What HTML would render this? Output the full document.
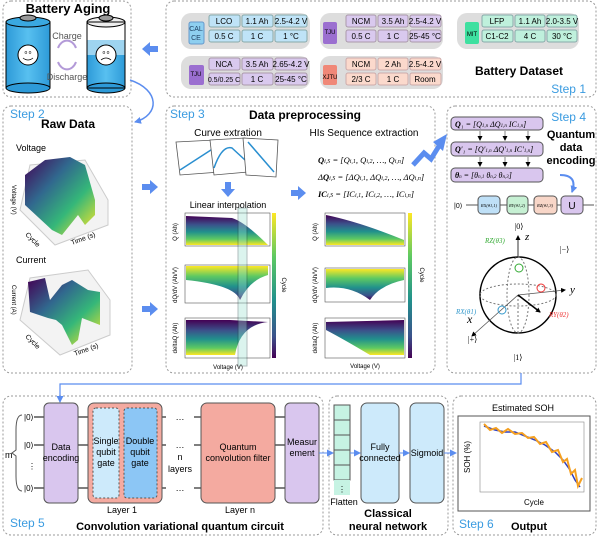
<!DOCTYPE html>
<html><head><meta charset="utf-8"><style>
html,body{margin:0;padding:0;background:#fff}
svg{display:block;font-family:"Liberation Sans",sans-serif}
.b{font-weight:bold}
.st{fill:#3a9be0;font-size:12px}
</style></head><body>
<svg width="600" height="538" viewBox="0 0 600 538" xmlns="http://www.w3.org/2000/svg">
<defs>
<linearGradient id="vir" x1="0" y1="0" x2="0" y2="1"><stop offset="0" stop-color="#440154"/><stop offset=".3" stop-color="#3b528b"/><stop offset=".55" stop-color="#21918c"/><stop offset=".8" stop-color="#5ec962"/><stop offset="1" stop-color="#fde725"/></linearGradient>
<linearGradient id="virr" x1="0" y1="0" x2="0" y2="1"><stop offset="0" stop-color="#fde725"/><stop offset=".3" stop-color="#5ec962"/><stop offset=".6" stop-color="#21918c"/><stop offset=".85" stop-color="#3b528b"/><stop offset="1" stop-color="#440154"/></linearGradient>
<linearGradient id="virh" x1="0" y1="0" x2="1" y2="1"><stop offset="0" stop-color="#440154"/><stop offset=".35" stop-color="#31688e"/><stop offset=".65" stop-color="#35b779"/><stop offset="1" stop-color="#fde725"/></linearGradient>
<linearGradient id="bat" x1="0" y1="0" x2="1" y2="0"><stop offset="0" stop-color="#2d9ad8"/><stop offset=".5" stop-color="#58c0f0"/><stop offset="1" stop-color="#2d9ad8"/></linearGradient>
<marker id="ah" markerUnits="userSpaceOnUse" markerWidth="7" markerHeight="7" refX="6" refY="3.5" orient="auto"><path d="M0,0 L7,3.5 L0,7z" fill="#5b8def"/></marker>
<marker id="ak" markerUnits="userSpaceOnUse" markerWidth="5" markerHeight="5" refX="4" refY="2.5" orient="auto"><path d="M0,0 L5,2.5 L0,5z" fill="#000"/></marker>
</defs>
<g fill="none" stroke="#999" stroke-dasharray="2,2" stroke-width="1">
<rect x="3" y="1" width="128" height="96" rx="8"/>
<rect x="166" y="1" width="430" height="96" rx="8"/>
<rect x="3" y="106" width="129" height="267" rx="8"/>
<rect x="166" y="106" width="269" height="267" rx="8"/>
<rect x="447" y="106" width="149" height="267" rx="8"/>
<rect x="3" y="396" width="320" height="139" rx="8"/>
<rect x="329" y="396" width="119" height="139" rx="8"/>
<rect x="453" y="396" width="143" height="139" rx="8"/>
</g>
<!-- Battery aging -->
<text x="68" y="13" text-anchor="middle" class="b" font-size="13">Battery Aging</text>
<rect x="6" y="22" width="44" height="66" fill="url(#bat)" stroke="#000"/>
<ellipse cx="28" cy="88" rx="22" ry="5" fill="#2d9ad8" stroke="#000"/>
<ellipse cx="28" cy="22" rx="22" ry="5" fill="#3aa8e0" stroke="#000"/>
<ellipse cx="28" cy="18" rx="8" ry="3" fill="#999" stroke="#000"/>
<circle cx="28" cy="55" r="10" fill="#fff" stroke="#000"/><text x="28" y="54" text-anchor="middle" font-size="5">o o</text><path d="M23,58 q5,4 10,0" stroke="#000" fill="none" stroke-width=".8"/>
<rect x="87" y="22" width="38" height="66" fill="#fff" stroke="#000"/>
<rect x="87" y="55" width="38" height="33" fill="url(#bat)"/>
<rect x="87" y="40" width="38" height="15" fill="#9ed4f0"/>
<ellipse cx="106" cy="88" rx="19" ry="5" fill="#2d9ad8" stroke="#000"/>
<ellipse cx="106" cy="22" rx="19" ry="5" fill="#eee" stroke="#000"/>
<ellipse cx="106" cy="18" rx="7" ry="3" fill="#999" stroke="#000"/>
<rect x="87" y="22" width="38" height="66" fill="none" stroke="#000"/>
<circle cx="106" cy="55" r="10" fill="#fff" stroke="#000"/><text x="106" y="54" text-anchor="middle" font-size="5">o o</text><path d="M101,60 q5,-4 10,0" stroke="#000" fill="none" stroke-width=".8"/>
<text x="67" y="39" text-anchor="middle" font-size="9" fill="#555">Charge</text>
<text x="67" y="80" text-anchor="middle" font-size="9" fill="#555">Discharge</text>
<path d="M58,48 a10,13 0 0 1 18,0" stroke="#b39ad8" fill="none" stroke-width="2"/>
<path d="M76,62 a10,13 0 0 1 -18,0" stroke="#b39ad8" fill="none" stroke-width="2"/>
<polygon points="142,49 150,42 150,46 158,46 158,52 150,52 150,56" fill="#5b8def"/>
<path d="M130,80 C160,90 160,115 135,122" stroke="#5b8def" stroke-width="1.5" fill="none" marker-end="url(#ah)"/>
<!-- Dataset cards -->
<g font-size="8" text-anchor="middle">
<g>
<rect x="181" y="13" width="129" height="36" rx="10" fill="#ddd"/>
<rect x="189" y="22" width="15" height="22" rx="2" fill="#8ecff0" stroke="#69c"/><text x="196" y="31" font-size="7" fill="#246">CAL</text><text x="196" y="40" font-size="7" fill="#246">CE</text>
<g fill="#bfe3f7" stroke="#8aa"><rect x="209" y="15" width="31" height="12" rx="2"/><rect x="242" y="15" width="31" height="12" rx="2"/><rect x="275" y="15" width="32" height="12" rx="2"/><rect x="209" y="30" width="31" height="12" rx="2"/><rect x="242" y="30" width="31" height="12" rx="2"/><rect x="275" y="30" width="32" height="12" rx="2"/></g>
<text x="224" y="24">LCO</text><text x="257" y="24">1.1 Ah</text><text x="291" y="24">2.5-4.2 V</text><text x="224" y="39">0.5 C</text><text x="257" y="39">1 C</text><text x="291" y="39">1 °C</text>
</g>
<g>
<rect x="320" y="13" width="123" height="36" rx="10" fill="#ddd"/>
<rect x="323" y="22" width="14" height="22" rx="2" fill="#9b6fd0"/><text x="330" y="34" font-size="6">TJU</text>
<g fill="#d9c9ee" stroke="#a9a"><rect x="346" y="15" width="30" height="12" rx="2"/><rect x="378" y="15" width="30" height="12" rx="2"/><rect x="410" y="15" width="31" height="12" rx="2"/><rect x="346" y="30" width="30" height="12" rx="2"/><rect x="378" y="30" width="30" height="12" rx="2"/><rect x="410" y="30" width="31" height="12" rx="2"/></g>
<text x="361" y="24">NCM</text><text x="393" y="24">3.5 Ah</text><text x="425" y="24">2.5-4.2 V</text><text x="361" y="39">0.5 C</text><text x="393" y="39">1 C</text><text x="425" y="39">25-45 °C</text>
</g>
<g>
<rect x="457" y="13" width="122" height="36" rx="10" fill="#ddd"/>
<rect x="465" y="22" width="14" height="22" rx="2" fill="#3ee0a0"/><text x="472" y="36" font-size="6">MIT</text>
<g fill="#bff0dc" stroke="#8aa"><rect x="482" y="15" width="31" height="12" rx="2"/><rect x="515" y="15" width="30" height="12" rx="2"/><rect x="547" y="15" width="30" height="12" rx="2"/><rect x="482" y="30" width="31" height="12" rx="2"/><rect x="515" y="30" width="30" height="12" rx="2"/><rect x="547" y="30" width="30" height="12" rx="2"/></g>
<text x="497" y="24">LFP</text><text x="530" y="24">1.1 Ah</text><text x="562" y="24">2.0-3.5 V</text><text x="497" y="39">C1-C2</text><text x="530" y="39">4 C</text><text x="562" y="39">30 °C</text>
</g>
<g>
<rect x="181" y="56" width="129" height="33" rx="10" fill="#ddd"/>
<rect x="189" y="65" width="15" height="20" rx="2" fill="#9b6fd0"/><text x="196" y="76" font-size="6">TJU</text>
<g fill="#d9c9ee" stroke="#a9a"><rect x="209" y="58" width="31" height="12" rx="2"/><rect x="242" y="58" width="31" height="12" rx="2"/><rect x="275" y="58" width="32" height="12" rx="2"/><rect x="209" y="73" width="31" height="12" rx="2"/><rect x="242" y="73" width="31" height="12" rx="2"/><rect x="275" y="73" width="32" height="12" rx="2"/></g>
<text x="224" y="67">NCA</text><text x="257" y="67">3.5 Ah</text><text x="291" y="67">2.65-4.2 V</text><text x="224" y="82" font-size="7">0.5/0.25 C</text><text x="257" y="82">1 C</text><text x="291" y="82">25-45 °C</text>
</g>
<g>
<rect x="320" y="56" width="123" height="33" rx="10" fill="#ddd"/>
<rect x="323" y="65" width="14" height="20" rx="2" fill="#f08878"/><text x="330" y="79" font-size="6">XJTU</text>
<g fill="#fbd9cc" stroke="#caa"><rect x="346" y="58" width="30" height="12" rx="2"/><rect x="378" y="58" width="30" height="12" rx="2"/><rect x="410" y="58" width="31" height="12" rx="2"/><rect x="346" y="73" width="30" height="12" rx="2"/><rect x="378" y="73" width="30" height="12" rx="2"/><rect x="410" y="73" width="31" height="12" rx="2"/></g>
<text x="361" y="67">NCM</text><text x="393" y="67">2 Ah</text><text x="425" y="67">2.5-4.2 V</text><text x="361" y="82">2/3 C</text><text x="393" y="82">1 C</text><text x="425" y="82">Room</text>
</g>
</g>
<text x="519" y="75" text-anchor="middle" class="b" font-size="12">Battery Dataset</text>
<text x="586" y="93" text-anchor="end" class="st">Step 1</text>
<!-- Step 2 -->
<text x="10" y="118" class="st">Step 2</text>
<text x="68" y="128" text-anchor="middle" class="b" font-size="12">Raw Data</text>
<text x="16" y="151" font-size="9">Voltage</text>
<path d="M20,210 L55,245 L108,225 L108,200 L85,160 L30,165z" fill="#f3f3f3" stroke="#ccc"/>
<path d="M25,175 L45,160 L70,157 L85,165 L95,200 L95,215 L85,225 L78,215 L62,235 L52,230 L25,205z" fill="url(#virh)"/>
<text x="12" y="185" font-size="6" transform="rotate(90 12 185)">Voltage (V)</text>
<text x="25" y="235" font-size="7" transform="rotate(45 25 235)">Cycle</text>
<text x="72" y="245" font-size="7" transform="rotate(-20 72 245)">Time (s)</text>
<text x="16" y="263" font-size="9">Current</text>
<path d="M20,320 L60,355 L110,335 L110,300 L88,270 L30,278z" fill="#f3f3f3" stroke="#ccc"/>
<path d="M28,282 L45,278 L50,300 L62,285 L72,280 L88,290 L100,292 L100,325 L82,318 L78,340 L72,345 L62,325 L56,320 L48,318 L30,312z" fill="url(#virh)"/>
<text x="12" y="285" font-size="6" transform="rotate(90 12 285)">Current (A)</text>
<text x="25" y="337" font-size="7" transform="rotate(45 25 337)">Cycle</text>
<text x="75" y="356" font-size="7" transform="rotate(-20 75 356)">Time (s)</text>
<polygon points="158,187 150,180 150,184 142,184 142,190 150,190 150,194" fill="#5b8def"/>
<polygon points="158,309 150,302 150,306 142,306 142,312 150,312 150,316" fill="#5b8def"/>
<!-- Step 3 -->
<text x="170" y="118" class="st">Step 3</text>
<text x="305" y="119" text-anchor="middle" class="b" font-size="12">Data preprocessing</text>
<text x="228" y="136" text-anchor="middle" font-size="10">Curve extration</text>
<text x="364" y="136" text-anchor="middle" font-size="10">HIs Sequence extraction</text>
<g stroke="#555" fill="#fff" stroke-width=".8">
<path d="M176,142 L215,140 L220,172 L180,175z"/><path d="M180,170 L214,148" stroke="#2a8fd0" stroke-width="1.5"/>
<path d="M210,140 L245,138 L248,172 L214,175z"/><path d="M214,168 Q222,145 232,148 L245,160" stroke="#2a8fd0" stroke-width="1.5" fill="none"/>
<path d="M243,138 L278,140 L276,177 L246,175z"/><path d="M248,142 L274,172" stroke="#2a8fd0" stroke-width="1.5"/>
</g>
<polygon points="228,197 221,189 225,189 225,182 231,182 231,189 235,189" fill="#5b8def"/>
<text x="228" y="208" text-anchor="middle" font-size="9">Linear interpolation</text>
<g>
<rect x="185" y="213" width="85" height="33" fill="#fff" stroke="#555" stroke-width=".6"/>
<path d="M186,216 L232,218 Q245,222 268,245 L186,245z" fill="url(#vir)"/>
<rect x="185" y="265" width="85" height="38" fill="#fff" stroke="#555" stroke-width=".6"/>
<path d="M186,266 L268,266 L268,275 Q250,280 240,300 Q235,285 186,280z" fill="url(#virr)"/>
<rect x="185" y="318" width="85" height="40" fill="#fff" stroke="#555" stroke-width=".6"/>
<path d="M186,320 L230,320 L268,322 Q240,325 235,355 L186,355z" fill="url(#vir)"/>
<rect x="238" y="208" width="9" height="158" fill="#9be0d0" opacity=".35" stroke="#244"/>
<rect x="272" y="213" width="4" height="145" fill="url(#virr)"/>
<text x="177" y="232" font-size="6" transform="rotate(-90 177 232)" text-anchor="middle">Q (Ah)</text>
<text x="177" y="285" font-size="6" transform="rotate(-90 177 285)" text-anchor="middle">dQ/dV (Ah/V)</text>
<text x="177" y="338" font-size="6" transform="rotate(-90 177 338)" text-anchor="middle">deltaQ (Ah)</text>
<text x="282" y="285" font-size="6" transform="rotate(90 282 285)" text-anchor="middle">Cycle</text>
<text x="228" y="369" text-anchor="middle" font-size="6">Voltage (V)</text>
</g>
<polygon points="306,193 298,186 298,190 291,190 291,196 298,196 298,200" fill="#5b8def"/>
<g font-family="Liberation Serif,serif" font-size="8.5" font-style="italic">
<text x="318" y="163"><tspan font-weight="bold">Q</tspan><tspan font-size="6">i,S</tspan> = [Q<tspan font-size="6">i,1</tspan>, Q<tspan font-size="6">i,2</tspan>, …, Q<tspan font-size="6">i,n</tspan>]</text>
<text x="318" y="180">Δ<tspan font-weight="bold">Q</tspan><tspan font-size="6">i,S</tspan> = [ΔQ<tspan font-size="6">i,1</tspan>, ΔQ<tspan font-size="6">i,2</tspan>, …, ΔQ<tspan font-size="6">i,n</tspan>]</text>
<text x="318" y="197"><tspan font-weight="bold">IC</tspan><tspan font-size="6">i,S</tspan> = [IC<tspan font-size="6">i,1</tspan>, IC<tspan font-size="6">i,2</tspan>, …, IC<tspan font-size="6">i,n</tspan>]</text>
</g>
<g>
<rect x="325" y="213" width="80" height="33" fill="#fff" stroke="#555" stroke-width=".6"/>
<path d="M326,215 Q360,222 404,240 L404,245 L326,245z" fill="url(#vir)"/>
<rect x="325" y="268" width="80" height="34" fill="#fff" stroke="#555" stroke-width=".6"/>
<path d="M326,269 L404,269 L404,280 Q380,285 370,300 Q350,285 326,288z" fill="url(#virr)"/>
<rect x="325" y="318" width="80" height="40" fill="#fff" stroke="#555" stroke-width=".6"/>
<path d="M326,322 L404,320 L404,355 L370,355 Q345,340 326,330z" fill="url(#vir)"/>
<rect x="408" y="213" width="4" height="145" fill="url(#virr)"/>
<text x="317" y="232" font-size="6" transform="rotate(-90 317 232)" text-anchor="middle">Q (Ah)</text>
<text x="317" y="285" font-size="6" transform="rotate(-90 317 285)" text-anchor="middle">dQ/dV (Ah/V)</text>
<text x="317" y="338" font-size="6" transform="rotate(-90 317 338)" text-anchor="middle">deltaQ (Ah)</text>
<text x="420" y="275" font-size="6" transform="rotate(90 420 275)" text-anchor="middle">Cycle</text>
<text x="365" y="368" text-anchor="middle" font-size="6">Voltage (V)</text>
</g>
<path d="M413,165 L424,153 L431,159 L439,146" stroke="#5b8def" stroke-width="5" fill="none"/>
<polygon points="447,134 433,142 443,151" fill="#5b8def"/>
<!-- Step 4 -->
<text x="586" y="121" text-anchor="end" class="st">Step 4</text>
<text x="571" y="138" text-anchor="middle" class="b" font-size="11">Quantum</text>
<text x="571" y="151" text-anchor="middle" class="b" font-size="11">data</text>
<text x="571" y="164" text-anchor="middle" class="b" font-size="11">encoding</text>
<g fill="#d9c6ee" stroke="#555"><rect x="451" y="117" width="92" height="13" rx="4"/><rect x="451" y="142" width="92" height="14" rx="4"/><rect x="451" y="168" width="92" height="14" rx="4"/></g>
<g font-family="Liberation Serif,serif" font-size="8" font-style="italic">
<text x="455" y="127"><tspan font-weight="bold">Q</tspan>₁ = [Q<tspan font-size="5">1,n</tspan>   ΔQ<tspan font-size="5">1,n</tspan>   IC<tspan font-size="5">1,n</tspan>]</text>
<text x="455" y="152"><tspan font-weight="bold">Q</tspan>′₁ = [Q′<tspan font-size="5">1,n</tspan>   ΔQ′<tspan font-size="5">1,n</tspan>   IC′<tspan font-size="5">1,n</tspan>]</text>
<text x="455" y="178"><tspan font-weight="bold">θ</tspan><tspan font-size="5">n</tspan> = [θ<tspan font-size="5">n,1</tspan>     θ<tspan font-size="5">n,2</tspan>     θ<tspan font-size="5">n,3</tspan>]</text>
</g>
<g stroke="#333" stroke-width=".6" marker-end="url(#ak)"><path d="M480,131 L480,140"/><path d="M505,131 L505,140"/><path d="M528,131 L528,140"/><path d="M480,157 L480,166"/><path d="M505,157 L505,166"/><path d="M528,157 L528,166"/></g>
<path d="M560,175 Q578,175 572,192" stroke="#5b8def" stroke-width="2" fill="none" marker-end="url(#ah)"/>
<text x="454" y="208" font-size="7">|0⟩</text>
<line x1="466" y1="205" x2="594" y2="205" stroke="#555"/>
<rect x="478" y="196" width="22" height="18" rx="4" fill="#bfe0f7" stroke="#555"/>
<rect x="507" y="196" width="21" height="18" rx="4" fill="#c6f0d3" stroke="#555"/>
<rect x="534" y="196" width="23" height="18" rx="4" fill="#f8d6c8" stroke="#555"/>
<rect x="561" y="196" width="22" height="18" rx="4" fill="#d9c6ee" stroke="#555"/>
<g font-size="4.5" font-style="italic" text-anchor="middle" font-family="Liberation Serif,serif"><text x="489" y="207">RX(θ1,1)</text><text x="517" y="207">RY(θ1,2)</text><text x="545" y="207">RZ(θ1,3)</text></g>
<text x="572" y="209" font-size="10" text-anchor="middle">U</text>
<g font-family="Liberation Serif,serif" font-style="italic">
<text x="519" y="229" text-anchor="middle" font-size="8" font-style="normal">|0⟩</text>
<line x1="518" y1="295" x2="518" y2="236" stroke="#000" stroke-width=".8" marker-end="url(#ak)"/>
<text x="525" y="240" font-size="11">z</text>
<text x="485" y="243" font-size="7" fill="#3a3">RZ(θ3)</text>
<text x="560" y="252" font-size="8" font-style="normal">|−⟩</text>
<circle cx="518" cy="295" r="38" fill="#fff" stroke="#000" stroke-width="1.5"/>
<ellipse cx="518" cy="295" rx="38" ry="11" fill="none" stroke="#777" stroke-dasharray="2,2"/>
<ellipse cx="518" cy="295" rx="11" ry="38" fill="none" stroke="#777" stroke-dasharray="2,2"/>
<line x1="518" y1="295" x2="518" y2="333" stroke="#777" stroke-dasharray="2,2"/>
<line x1="518" y1="295" x2="472" y2="336" stroke="#555" stroke-width=".8" marker-end="url(#ak)"/>
<line x1="518" y1="295" x2="565" y2="290" stroke="#555" stroke-width=".8" marker-end="url(#ak)"/>
<line x1="518" y1="295" x2="540" y2="312" stroke="#000" stroke-width="1.5" marker-end="url(#ak)"/>
<circle cx="519" cy="268" r="4" fill="none" stroke="#3a3"/>
<circle cx="541" cy="288" r="4" fill="none" stroke="#e33"/>
<circle cx="502" cy="310" r="4" fill="none" stroke="#39c"/>
<text x="570" y="293" font-size="11">y</text>
<text x="467" y="323" font-size="12">x</text>
<text x="456" y="314" font-size="7" fill="#39c">RX(θ1)</text>
<text x="549" y="317" font-size="7" fill="#e33">RY(θ2)</text>
<text x="468" y="342" font-size="8" font-style="normal">|+⟩</text>
<text x="518" y="360" font-size="8" font-style="normal" text-anchor="middle">|1⟩</text>
</g>
<!-- connector -->
<path d="M521,373 L521,384 L60,384 L60,402" stroke="#5b8def" stroke-width="1.2" fill="none" marker-end="url(#ah)"/>
<!-- Step 5 -->
<g stroke="#555" stroke-width="1.5"><line x1="34" y1="417" x2="285" y2="417"/><line x1="34" y1="445" x2="285" y2="445"/><line x1="34" y1="488" x2="285" y2="488"/></g>
<g font-size="8"><text x="24" y="420">|0⟩</text><text x="24" y="448">|0⟩</text><text x="28" y="469">⋮</text><text x="24" y="491">|0⟩</text><text x="5" y="458" font-size="9">m</text></g>
<path d="M22,415 Q16,415 16,430 L16,450 L12,453 L16,456 L16,476 Q16,491 22,491" stroke="#555" fill="none"/>
<rect x="44" y="403" width="34" height="100" rx="5" fill="#d9c6ee" stroke="#555"/>
<text x="61" y="450" text-anchor="middle" font-size="9">Data</text><text x="61" y="461" text-anchor="middle" font-size="9">encoding</text>
<rect x="88" y="403" width="74" height="100" rx="6" fill="#f4aaa0" stroke="#555"/>
<rect x="93" y="408" width="26" height="90" rx="3" fill="#cdeafb" stroke="#555" stroke-dasharray="2,2"/>
<rect x="124" y="408" width="33" height="90" rx="3" fill="#8cc6f5" stroke="#555" stroke-dasharray="2,2"/>
<rect x="166" y="410" width="28" height="85" fill="#fff"/>
<g font-size="9" text-anchor="middle"><text x="106" y="444">Single</text><text x="106" y="455">qubit</text><text x="106" y="466">gate</text><text x="140" y="444">Double</text><text x="140" y="455">qubit</text><text x="140" y="466">gate</text>
<text x="122" y="513">Layer 1</text><text x="180" y="420">…</text><text x="180" y="448">…</text><text x="180" y="491">…</text><text x="180" y="460">n</text><text x="180" y="472">layers</text></g>
<rect x="201" y="403" width="74" height="100" rx="6" fill="#f4aaa0" stroke="#555"/>
<text x="238" y="450" text-anchor="middle" font-size="9">Quantum</text><text x="238" y="461" text-anchor="middle" font-size="9">convolution filter</text>
<text x="240" y="513" text-anchor="middle" font-size="9">Layer n</text>
<rect x="285" y="403" width="34" height="100" rx="5" fill="#d9c6ee" stroke="#555"/>
<text x="302" y="445" text-anchor="middle" font-size="9">Measur</text><text x="302" y="456" text-anchor="middle" font-size="9">ement</text>
<text x="10" y="527" class="st">Step 5</text>
<text x="180" y="530" text-anchor="middle" class="b" font-size="11">Convolution variational quantum circuit</text>
<!-- Classical -->
<path d="M319,453 L333,453" stroke="#5b8def" stroke-width="1" marker-end="url(#ah)"/>
<g fill="#c6f3e3" stroke="#555"><rect x="334" y="405" width="16" height="15"/><rect x="334" y="420" width="16" height="15"/><rect x="334" y="435" width="16" height="15"/><rect x="334" y="450" width="16" height="15"/><rect x="334" y="465" width="16" height="15"/></g>
<rect x="334" y="480" width="16" height="15" fill="#c6f3e3"/><text x="342" y="492" text-anchor="middle" font-size="8">⋮</text>
<text x="344" y="505" text-anchor="middle" font-size="9">Flatten</text>
<path d="M350,453 L360,453" stroke="#5b8def" marker-end="url(#ah)"/>
<rect x="361" y="403" width="38" height="100" rx="6" fill="#cdeafb" stroke="#555"/>
<text x="380" y="450" text-anchor="middle" font-size="9">Fully</text><text x="380" y="461" text-anchor="middle" font-size="9">connected</text>
<path d="M399,453 L409,453" stroke="#5b8def" marker-end="url(#ah)"/>
<rect x="410" y="403" width="34" height="100" rx="6" fill="#cdeafb" stroke="#555"/>
<text x="427" y="456" text-anchor="middle" font-size="9">Sigmoid</text>
<path d="M444,453 L456,453" stroke="#5b8def" marker-end="url(#ah)"/>
<text x="388" y="517" text-anchor="middle" class="b" font-size="11">Classical</text>
<text x="388" y="530" text-anchor="middle" class="b" font-size="11">neural network</text>
<!-- Output -->
<text x="523" y="411" text-anchor="middle" font-size="9">Estimated SOH</text>
<rect x="458" y="416" width="132" height="95" fill="#fff" stroke="#555"/>
<rect x="480" y="422" width="104" height="70" fill="#fff" stroke="#888" stroke-width=".6"/>
<path d="M484,426 L495,430 L505,432 L515,432 L525,436 L535,440 L545,445 L555,452 L563,460 L570,470 L575,480 L580,487" stroke="#3040c0" stroke-width="1.5" fill="none"/>
<path d="M484,424 L490,430 L496,428 L502,433 L508,429 L515,434 L522,433 L528,438 L534,437 L540,444 L546,442 L552,452 L558,450 L563,462 L567,459 L571,474 L575,470 L578,486 L582,478" stroke="#f5a020" stroke-width="2" fill="none"/>
<text x="534" y="505" text-anchor="middle" font-size="8">Cycle</text>
<text x="470" y="457" font-size="8" transform="rotate(-90 470 457)" text-anchor="middle">SOH (%)</text>
<text x="459" y="528" class="st">Step 6</text>
<text x="529" y="530" text-anchor="middle" class="b" font-size="11">Output</text>
</svg>
</body></html>
